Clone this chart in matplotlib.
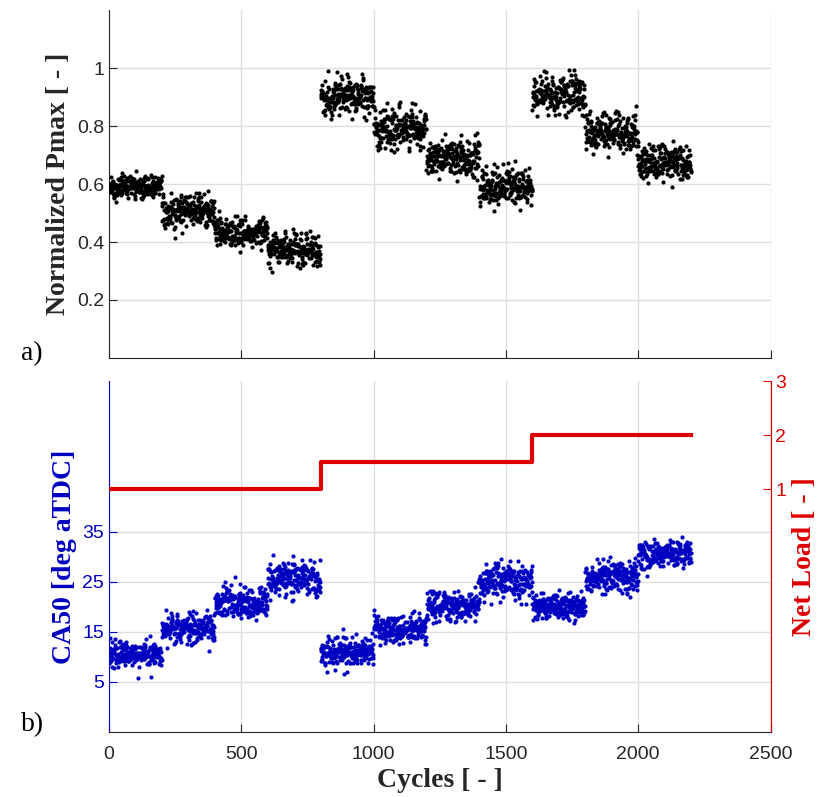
import numpy as np
import matplotlib.pyplot as plt

# segment data (200 cycles per operating point)
seg_len = 200
pmax_mean = [0.595, 0.51, 0.44, 0.375, 0.90, 0.795, 0.69, 0.59, 0.915, 0.775, 0.675]
pmax_std = [0.022, 0.030, 0.027, 0.028, 0.035, 0.035, 0.030, 0.030, 0.035, 0.035, 0.030]
ca50_mean = [10.5, 15.7, 20.8, 25.8, 10.8, 15.5, 20.3, 25.2, 20.0, 25.8, 30.8]
ca50_std = [1.3, 1.5, 1.6, 1.7, 1.5, 1.5, 1.5, 1.7, 1.3, 1.6, 1.5]
load_steps = [0, 800, 1600, 2200]
load_vals = [1.0, 1.5, 2.0]

rng = np.random.default_rng(7)
cycles = np.arange(len(pmax_mean) * seg_len)
pmax = np.concatenate([m + s * rng.standard_normal(seg_len) for m, s in zip(pmax_mean, pmax_std)])
ca50 = np.concatenate([m + s * rng.standard_normal(seg_len) for m, s in zip(ca50_mean, ca50_std)])
load_x = np.repeat(load_steps, 2)[1:-1]
load_y = np.repeat(load_vals, 2)

plt.rcParams['font.family'] = ['Liberation Sans', 'DejaVu Sans']
serif = ['Liberation Serif', 'DejaVu Serif']
grid_c = '#dedede'
blue = '#0000c0'
red = '#dd0000'
lab_fs = 20
tick_fs = 14

fig = plt.figure(figsize=(8.25, 7.97), dpi=100)
ax1 = fig.add_axes([0.132, 0.551, 0.802, 0.436])
ax2 = fig.add_axes([0.132, 0.0816, 0.802, 0.440])

# top: Pmax
ax1.scatter(cycles, pmax, s=9, c='black', linewidths=0, zorder=3)
ax1.set_xlim(0, 2500)
ax1.set_ylim(0, 1.2)
ax1.set_yticks([0.2, 0.4, 0.6, 0.8, 1.0])
ax1.set_yticklabels(['0.2', '0.4', '0.6', '0.8', '1'])
ax1.set_xticks([0, 500, 1000, 1500, 2000, 2500])
ax1.set_xticklabels([])
ax1.grid(True, color=grid_c, lw=1)
ax1.set_axisbelow(True)
ax1.set_ylabel('Normalized Pmax [ - ]', family=serif, fontsize=lab_fs, fontweight='bold', color='#262626')
for sp in ['top', 'right']:
    ax1.spines[sp].set_visible(False)
for sp in ['left', 'bottom']:
    ax1.spines[sp].set_color('#262626')
ax1.tick_params(direction='in', length=6, labelsize=tick_fs, colors='#262626')

# bottom: CA50 + net load
ax2.scatter(cycles, ca50, s=9, c=blue, linewidths=0, zorder=3)
ax2.set_xlim(0, 2500)
ax2.set_ylim(-5, 65)
ax2.set_yticks([5, 15, 25, 35])
ax2.set_xticks([0, 500, 1000, 1500, 2000, 2500])
ax2.grid(True, color=grid_c, lw=1)
ax2.set_axisbelow(True)
ax2.set_ylabel('CA50 [deg aTDC]', family=serif, fontsize=lab_fs, fontweight='bold', color=blue)
ax2.set_xlabel('Cycles [ - ]', family=serif, fontsize=lab_fs, fontweight='bold', color='#262626')
ax2.spines['top'].set_visible(False)
ax2.spines['left'].set_color(blue)
ax2.spines['bottom'].set_color('#262626')
ax2.tick_params(axis='x', direction='in', length=6, labelsize=tick_fs, colors='#262626', pad=10)
ax2.tick_params(axis='y', direction='in', length=6, labelsize=tick_fs, colors=blue)

ax3 = ax2.twinx()
ax3.plot(load_x, load_y, color=red, lw=3)
ax3.set_ylim(-3.5, 3)
ax3.set_yticks([1, 2, 3])
ax3.set_ylabel('Net Load [ - ]', family=serif, fontsize=lab_fs, fontweight='bold', color=red)
ax3.spines['top'].set_visible(False)
ax3.spines['left'].set_visible(False)
ax3.spines['bottom'].set_visible(False)
ax3.spines['right'].set_color(red)
ax3.tick_params(axis='y', direction='in', length=6, labelsize=tick_fs, colors=red)

fig.text(0.025, 0.548, 'a)', family=serif, fontsize=lab_fs)
fig.text(0.025, 0.083, 'b)', family=serif, fontsize=lab_fs)

plt.savefig('out.png')
